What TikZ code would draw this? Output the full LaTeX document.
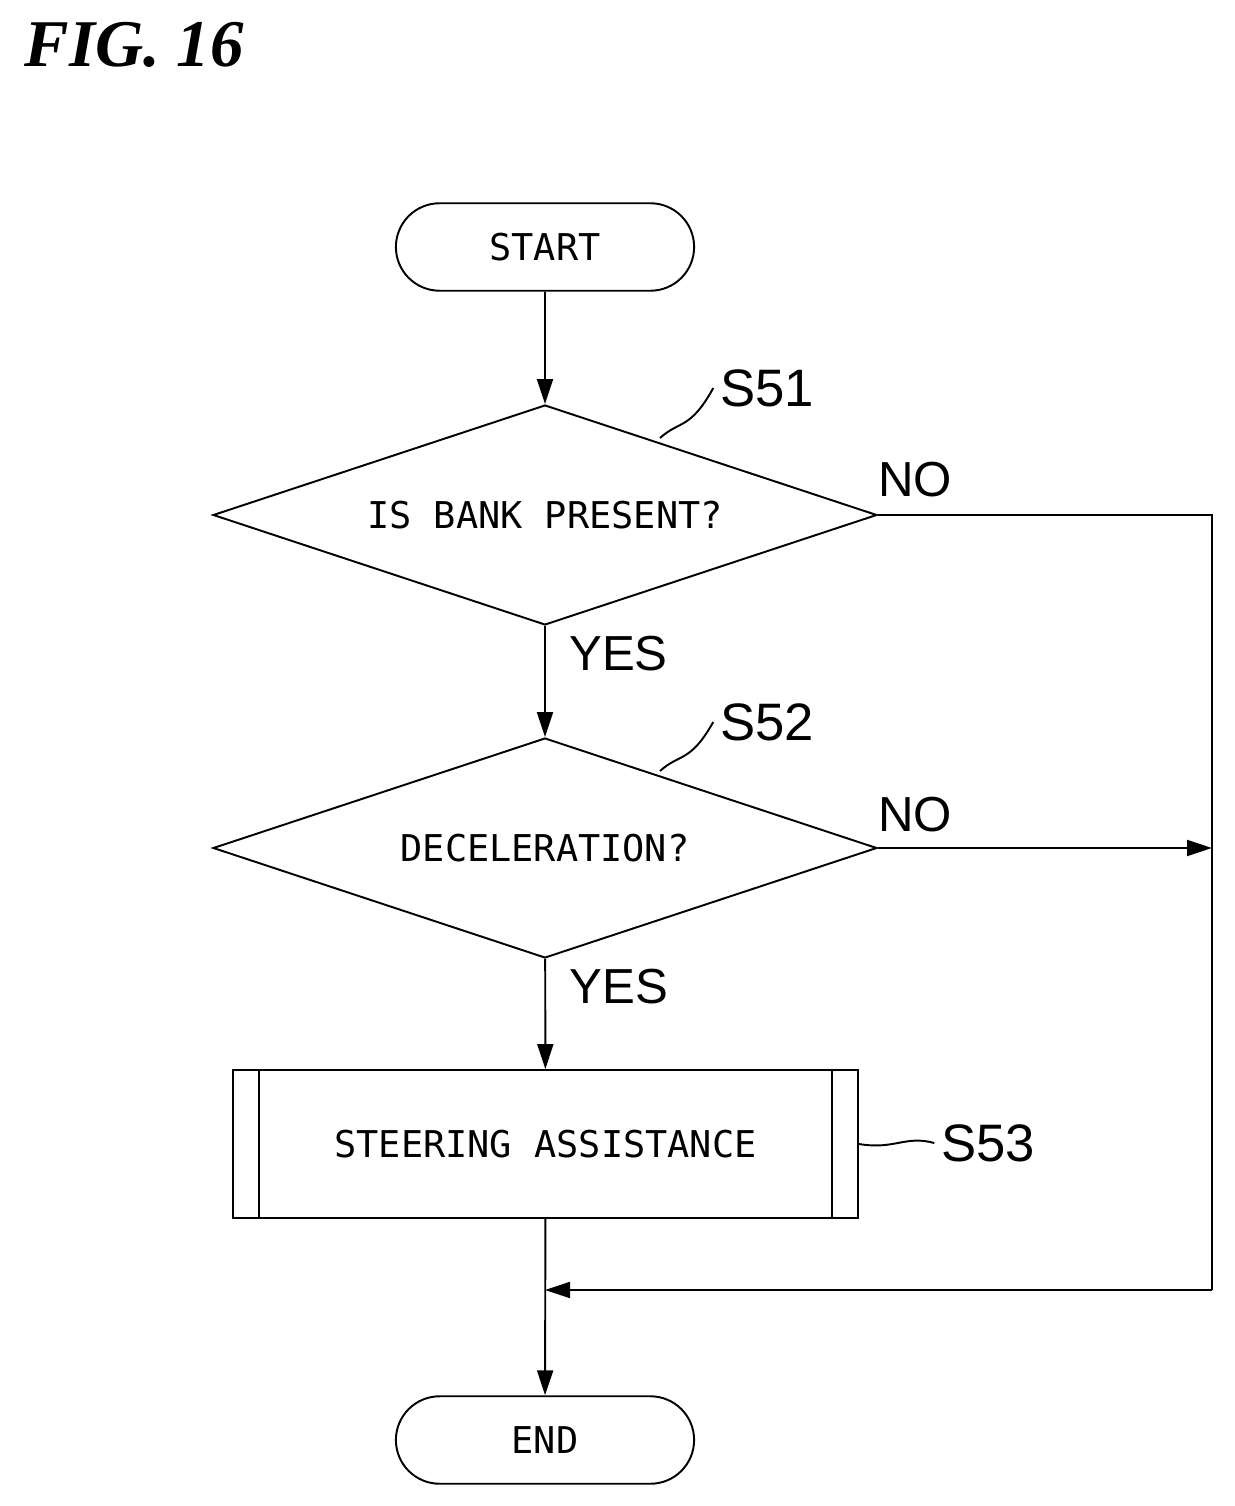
\documentclass[tikz,border=0pt]{standalone}
\usepackage{fontspec}
\setmainfont{Liberation Sans}
\newfontfamily\titlefont{Liberation Serif}
\newfontfamily\boxfont{DejaVu Sans Mono}
\usetikzlibrary{shapes, arrows.meta, calc}
\def \boxfontsize {\fontsize{21}{25}\selectfont}

\begin{document}
\begin{tikzpicture}[x = 0.02cm, y = -0.02cm, line width = 1.1pt,
  arr/.style = {-{Triangle[length = 0.5cm, width = 0.32cm]}},
  term/.style = {draw, rounded rectangle, minimum width = 6.2cm, minimum height = 1.75cm, font = \boxfont\boxfontsize},
  decision/.style = {draw, diamond, aspect = 3, inner sep = 0pt, minimum width = 13.28cm, minimum height = 4.4cm, font = \boxfont\boxfontsize},
  steplabel/.style = {font = \fontsize{30}{34}\selectfont},
  answer/.style = {font = \fontsize{28}{32}\selectfont}]
\useasboundingbox (0, 0) rectangle (1234, 1506);

\node (title) [anchor = west, font = \titlefont\bfseries\itshape\fontsize{38}{42}\selectfont] at (18, 45) {FIG. 16};

\node (start) [term] at (545, 247) {START};
\node (bank) [decision] at (545, 515) {IS BANK PRESENT?};
\node (decel) [decision] at (545, 848) {DECELERATION?};
\node (assist) [draw, minimum width = 12.5cm, minimum height = 2.96cm, font = \boxfont\boxfontsize] at (545.5, 1144) {STEERING ASSISTANCE};
\draw ([xshift = 0.54cm] assist.north west) -- ([xshift = 0.54cm] assist.south west);
\draw ([xshift = -0.54cm] assist.north east) -- ([xshift = -0.54cm] assist.south east);
\node (finish) [term] at (545, 1440) {END};

% step labels
\node (s51) [steplabel] at (767, 388) {S51};
\node (s52) [steplabel] at (767, 722) {S52};
\node (s53) [steplabel] at (988, 1143) {S53};
\draw (660, 438) .. controls (680, 420) and (690, 430) .. (s51.west);
\draw (660, 771) .. controls (680, 753) and (690, 763) .. (s52.west);
\draw (assist.east) .. controls (895, 1150) and (905, 1135) .. (s53.west);

% flow
\coordinate (rightup) at (1212, 515);
\coordinate (rightmid) at (1212, 848);
\coordinate (rightdown) at (1212, 1290);
\coordinate (merge) at (545, 1290);

\draw[arr] (start) -- (bank);
\draw[arr] (bank) -- node[answer, right = 0.35cm, pos = 0.25] {YES} (decel);
\draw[arr] (decel) -- node[answer, right = 0.35cm, pos = 0.25] {YES} (assist);
\draw[arr] (assist) -- (finish);
\draw (bank.east) -- (rightup) -- (rightdown);
\draw[arr] (rightdown) -- (merge);
\draw[arr] (decel.east) -- (rightmid);
\node[answer] at (915, 480) {NO};
\node[answer] at (915, 815) {NO};

\end{tikzpicture}
\end{document}
